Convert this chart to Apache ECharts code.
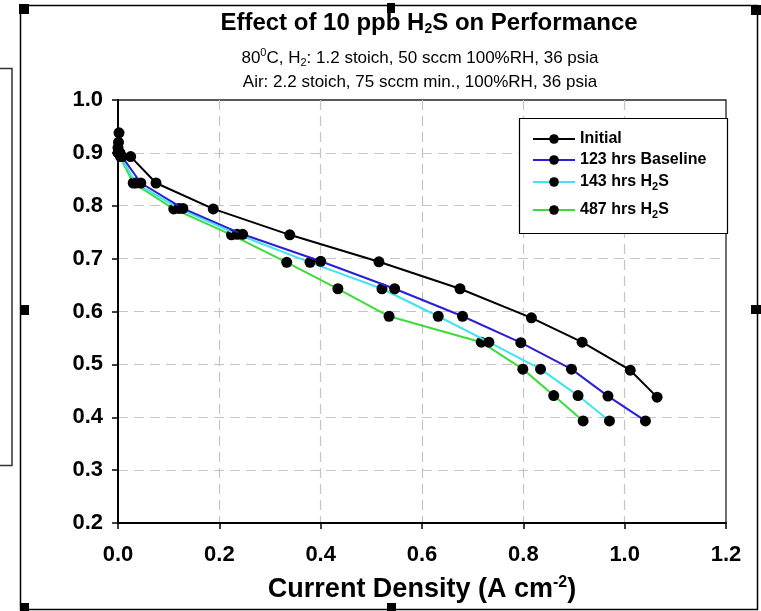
<!DOCTYPE html>
<html>
<head>
<meta charset="utf-8">
<script src="https://cdn.jsdelivr.net/npm/echarts@6/dist/echarts.min.js"></script>
<style>
html,body{margin:0;padding:0;background:#fff;}
#chart{width:761px;height:611px;}
</style>
</head>
<body>
<div id="chart"></div>
<script>
// ---- data ----
const seriesNames = ['Initial', '123 hrs Baseline', '143 hrs H2S', '487 hrs H2S'];
const legendLabels = ['Initial', '123 hrs Baseline', '143 hrs H{sub|2}S', '487 hrs H{sub|2}S'];

const xInitial = [0.002, 0.004, 0.025, 0.075, 0.188, 0.339, 0.515, 0.675, 0.816, 0.916, 1.011, 1.064];
const yInitial = [0.938, 0.900, 0.893, 0.843, 0.794, 0.745, 0.694, 0.643, 0.588, 0.542, 0.489, 0.438];

const xBaseline = [0.001, 0.008, 0.045, 0.128, 0.246, 0.400, 0.546, 0.680, 0.795, 0.895, 0.967, 1.041];
const yBaseline = [0.920, 0.893, 0.843, 0.795, 0.746, 0.695, 0.643, 0.591, 0.541, 0.491, 0.440, 0.393];

const x143 = [0.000, 0.005, 0.035, 0.120, 0.235, 0.379, 0.521, 0.632, 0.732, 0.834, 0.908, 0.970];
const y143 = [0.910, 0.893, 0.843, 0.795, 0.746, 0.693, 0.643, 0.591, 0.542, 0.491, 0.441, 0.393];

const x487 = [0.000, 0.030, 0.110, 0.224, 0.333, 0.434, 0.535, 0.717, 0.799, 0.860, 0.918];
const y487 = [0.900, 0.843, 0.794, 0.745, 0.693, 0.643, 0.591, 0.542, 0.491, 0.441, 0.393];

const xTicks = [0.0, 0.2, 0.4, 0.6, 0.8, 1.0, 1.2];
const yTicks = [0.2, 0.3, 0.4, 0.5, 0.6, 0.7, 0.8, 0.9, 1.0];

const lineColors = ['#000000', '#2a1fd6', '#3fe4ee', '#3ddc3a'];

// ---- build ----
function pairs(xs, ys) { return xs.map((x, i) => [x, ys[i]]); }
const allData = [pairs(xInitial, yInitial), pairs(xBaseline, yBaseline), pairs(x143, y143), pairs(x487, y487)];

const FONT = '"Liberation Sans", Arial, sans-serif';
const chart = echarts.init(document.getElementById('chart'), null, {renderer: 'canvas'});

const legendTops = [126, 147, 169, 197];
const legends = seriesNames.map((n, i) => ({
  data: [n],
  left: 527,
  top: legendTops[i],
  itemWidth: 42,
  itemHeight: 12,
  formatter: () => legendLabels[i],
  z: 100,
  textStyle: {
    fontFamily: FONT, fontWeight: 'bold', fontSize: 16, color: '#000',
    rich: { sub: { fontFamily: FONT, fontWeight: 'bold', fontSize: 11, padding: [9, 0, 0, 0] } }
  }
}));

const order = [3, 2, 1, 0];
const series = order.map(i => ({
  name: seriesNames[i],
  type: 'line',
  data: allData[i],
  symbol: 'circle',
  symbolSize: 11,
  showSymbol: true,
  itemStyle: { color: '#000' },
  lineStyle: { color: lineColors[i], width: 2 },
  z: 2 + (3 - i),
  animation: false
}));

const option = {
  backgroundColor: '#fff',
  animation: false,
  textStyle: { fontFamily: FONT },
  title: [
    {
      text: 'Effect of 10 ppb H{sub|2}S on Performance',
      left: 424, top: 5, textAlign: 'center',
      textStyle: {
        fontFamily: FONT, fontWeight: 'bold', fontSize: 24, color: '#000',
        rich: { sub: { fontFamily: FONT, fontWeight: 'bold', fontSize: 14, padding: [12, 0, 0, 0] } }
      }
    },
    {
      text: '80{sup|0}C, H{sub|2}: 1.2 stoich, 50 sccm 100%RH, 36 psia\nAir: 2.2 stoich, 75 sccm min., 100%RH, 36 psia',
      left: 415, top: 41, textAlign: 'center',
      textStyle: {
        fontFamily: FONT, fontWeight: 'normal', fontSize: 17, color: '#000', lineHeight: 24,
        rich: {
          sup: { fontFamily: FONT, fontSize: 11, padding: [0, 0, 10, 0] },
          sub: { fontFamily: FONT, fontSize: 11, padding: [9, 0, 0, 0] }
        }
      }
    }
  ],
  legend: legends,
  grid: { left: 118, right: 35, top: 100, bottom: 88, show: true, borderColor: '#222', borderWidth: 1.3, backgroundColor: 'transparent' },
  xAxis: {
    type: 'value', min: 0, max: 1.2, interval: 0.2,
    name: 'Current Density (A cm{sup|-2})',
    nameLocation: 'middle', nameGap: 52,
    nameTextStyle: {
      fontFamily: FONT, fontWeight: 'bold', fontSize: 27, color: '#000',
      rich: { sup: { fontFamily: FONT, fontWeight: 'bold', fontSize: 16, padding: [0, 0, 14, 0] } }
    },
    axisLine: { show: true, lineStyle: { color: '#000', width: 2 } },
    axisTick: { show: true, inside: false, length: 6, lineStyle: { color: '#000', width: 1.5 } },
    axisLabel: { fontFamily: FONT, fontWeight: 'bold', fontSize: 22, color: '#000', margin: 21,
      formatter: v => xTicks.includes(+v.toFixed(1)) ? v.toFixed(1) : '' },
    splitLine: { show: true, showMinLine: false, showMaxLine: false, lineStyle: { color: '#c4c4c4', type: [10, 6], width: 1.2 } }
  },
  yAxis: {
    type: 'value', min: 0.2, max: 1.0, interval: 0.1,
    axisLine: { show: true, lineStyle: { color: '#000', width: 2 } },
    axisTick: { show: true, inside: false, length: 6, lineStyle: { color: '#000', width: 1.5 } },
    axisLabel: { fontFamily: FONT, fontWeight: 'bold', fontSize: 22, color: '#000', margin: 15,
      formatter: v => yTicks.includes(+v.toFixed(1)) ? v.toFixed(1) : '' },
    splitLine: { show: true, showMinLine: false, showMaxLine: false, lineStyle: { color: '#c4c4c4', type: [10, 6], width: 1.2 } }
  },
  graphic: [
    { type: 'rect', shape: { x: 20.5, y: 5.5, width: 737, height: 604 }, style: { fill: 'none', stroke: '#000', lineWidth: 1.5 }, z: 0, silent: true },
    { type: 'rect', shape: { x: -2, y: 68.5, width: 14, height: 397 }, style: { fill: 'none', stroke: '#333', lineWidth: 1.5 }, z: 0, silent: true },
    { type: 'rect', shape: { x: 519.5, y: 118.5, width: 208, height: 115 }, style: { fill: '#fff', stroke: '#000', lineWidth: 1.2 }, z: 50, silent: true },
    { type: 'rect', shape: { x: 19, y: 4, width: 10, height: 10 }, style: { fill: '#000' }, z: 60 },
    { type: 'rect', shape: { x: 387, y: 3, width: 8, height: 10 }, style: { fill: '#000' }, z: 60 },
    { type: 'rect', shape: { x: 751, y: 5, width: 10, height: 10 }, style: { fill: '#000' }, z: 60 },
    { type: 'rect', shape: { x: 751, y: 305, width: 10, height: 9 }, style: { fill: '#000' }, z: 60 },
    { type: 'rect', shape: { x: 20, y: 305, width: 9, height: 10 }, style: { fill: '#000' }, z: 60 },
    { type: 'rect', shape: { x: 20, y: 603, width: 9, height: 8 }, style: { fill: '#000' }, z: 60 },
    { type: 'rect', shape: { x: 387, y: 603, width: 9, height: 8 }, style: { fill: '#000' }, z: 60 }
  ],
  series: series
};
chart.setOption(option);
</script>
</body>
</html>
